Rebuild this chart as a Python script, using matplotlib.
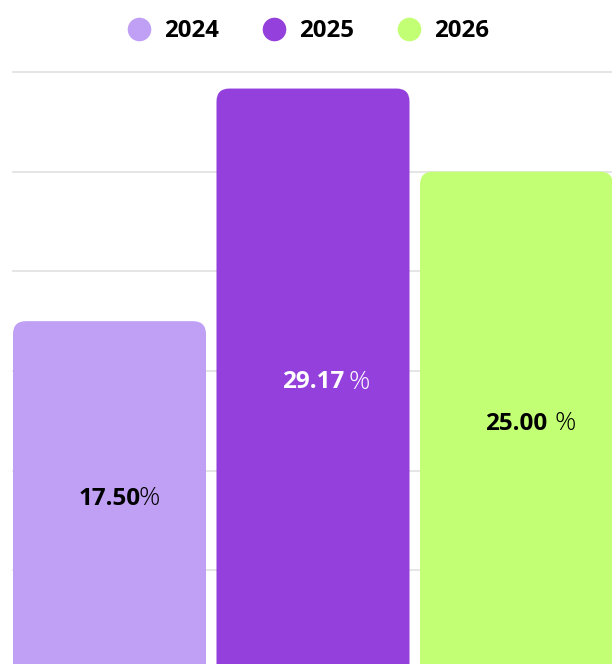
import matplotlib
matplotlib.use("Agg")
import matplotlib.pyplot as plt
from matplotlib.lines import Line2D
from matplotlib.patches import FancyBboxPatch

years = ["2024", "2025", "2026"]
shares = [17.50, 29.17, 25.00]
value_labels = ["17.50", "29.17", "25.00"]
percent_gaps = [-1.4, 3, 5]  # gap (pt) between number and % sign
bar_colors = ["#BFA0F5", "#9440DD", "#C3FF74"]
text_colors = ["#000000", "#FFFFFF", "#000000"]
grid_ticks = [5, 10, 15, 20, 25, 30]

plt.rcParams["font.family"] = ["Open Sans", "DejaVu Sans"]

W, H = 612, 664
fig = plt.figure(figsize=(W / 100, H / 100), dpi=100)
ax = fig.add_axes([13 / W, -6 / H, 599 / W, 598 / H])

xs = list(range(len(years)))
bar_w = 193 / 203.5
ax.set_xlim(-bar_w / 2, 2 + 95.5 / 203.5)
ax.set_ylim(0, 30)

for t in grid_ticks:
    ax.axhline(t, color="#E0E0E0", lw=1.2, zorder=0, clip_on=False)

# pixel scale for rounded corners
x_per_px = (ax.get_xlim()[1] - ax.get_xlim()[0]) / 599
y_per_px = 30 / 598
radius_px = 13

bars = ax.bar(xs, shares, width=bar_w, color=bar_colors)
for bar, c in zip(bars, bar_colors):
    bar.set_visible(False)
    x0, y0 = bar.get_x(), bar.get_y()
    patch = FancyBboxPatch(
        (x0, y0 - 2), bar.get_width(), bar.get_height() + 2,
        boxstyle=f"round,pad=0,rounding_size={radius_px * x_per_px}",
        mutation_aspect=y_per_px / x_per_px,
        facecolor=c, edgecolor="none", zorder=2,
    )
    ax.add_patch(patch)

for x, v, lab, gap, tc in zip(xs, shares, value_labels, percent_gaps, text_colors):
    mid = (v - 0.3) / 2
    num = ax.text(x, mid, lab, ha="center", va="center", fontsize=17.5,
                  fontweight="bold", fontstretch="normal", color=tc, zorder=3)
    ax.annotate("%", xy=(1, 0.5), xycoords=num, xytext=(gap, 0),
                textcoords="offset points", ha="left", va="center",
                fontsize=19, fontweight="light", fontstretch="normal",
                color=tc, zorder=3)

ax.axis("off")

handles = [Line2D([0], [0], marker="o", linestyle="none", markersize=17,
                  markerfacecolor=c, markeredgecolor="none") for c in bar_colors]
fig.legend(handles, years, loc="center", bbox_to_anchor=(0.503, 1 - 31 / H),
           ncol=3, frameon=False, handlelength=1.0, handletextpad=0.53,
           columnspacing=1.8,
           prop={"weight": "bold", "stretch": "normal", "size": 17.3})

fig.savefig("out.png", dpi=100)
